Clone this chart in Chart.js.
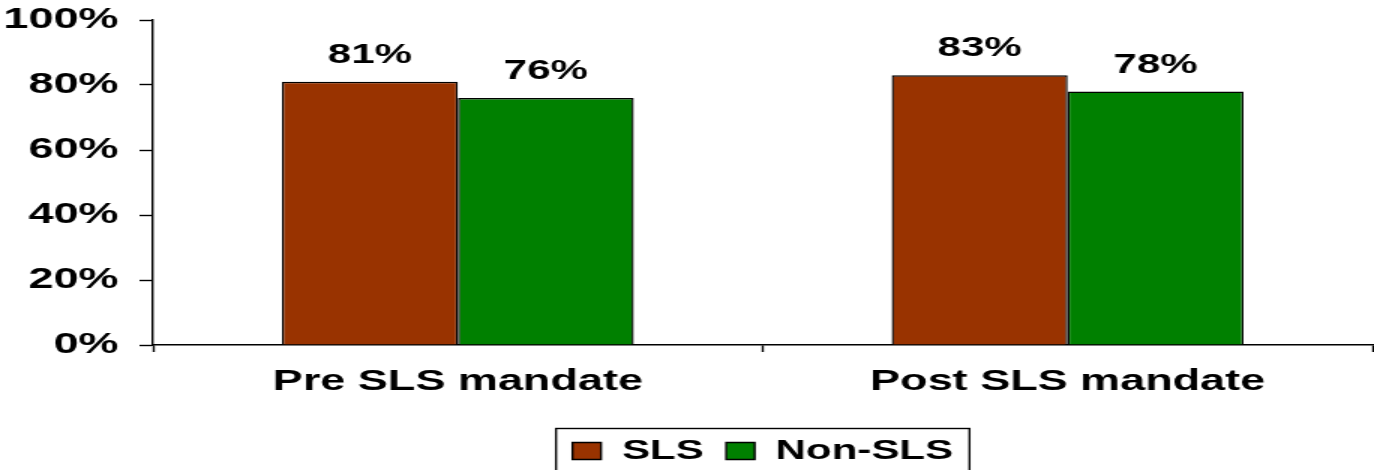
<!DOCTYPE html>
<html>
<head>
<meta charset="utf-8">
<script src="https://cdn.jsdelivr.net/npm/chart.js@4"></script>
<style>
  html, body { margin: 0; padding: 0; width: 1374px; height: 470px; overflow: hidden; background: #fff; }
  /* the chart is drawn on a narrower canvas and widened horizontally */
  #wrap { width: 916px; height: 475px; transform: scaleX(1.5); transform-origin: 0 0; }
  canvas { display: block; }
</style>
</head>
<body>
<div id="wrap"><canvas id="c" width="916" height="475" style="width:916px;height:475px"></canvas></div>
<script>
const categories = ['Pre SLS mandate', 'Post SLS mandate'];
const seriesNames = ['SLS', 'Non-SLS'];
const slsValues = [81, 83];
const nonSlsValues = [76, 78];
const yTickValues = [0, 20, 40, 60, 80, 100];

const FONT = "'Liberation Sans', Arial, sans-serif";

// value labels above each bar
const valueLabels = {
  id: 'valueLabels',
  afterDatasetsDraw(chart) {
    const ctx = chart.ctx;
    ctx.save();
    ctx.font = `bold 28px ${FONT}`;
    ctx.fillStyle = '#000';
    ctx.textAlign = 'center';
    ctx.textBaseline = 'alphabetic';
    chart.data.datasets.forEach((ds, di) => {
      const meta = chart.getDatasetMeta(di);
      meta.data.forEach((bar, i) => {
        ctx.fillText(ds.data[i] + '%', bar.x, bar.y - 19);
      });
    });
    ctx.restore();
  }
};

// frame around the legend
const legendFrame = {
  id: 'legendFrame',
  afterDraw(chart) {
    const lg = chart.legend;
    if (!lg || !lg.legendHitBoxes.length) return;
    const boxes = lg.legendHitBoxes;
    const left = Math.min(...boxes.map(b => b.left)) - 11;
    const right = Math.max(...boxes.map(b => b.left + b.width)) + 11;
    const cy = boxes[0].top + boxes[0].height / 2;
    const ctx = chart.ctx;
    ctx.save();
    ctx.strokeStyle = '#000';
    ctx.lineWidth = 1.4;
    ctx.strokeRect(left, cy - 22.5, right - left, 80);
    ctx.restore();
  }
};

new Chart(document.getElementById('c'), {
  type: 'bar',
  data: {
    labels: categories,
    datasets: [
      { label: seriesNames[0], data: slsValues, backgroundColor: '#993300', borderColor: '#000', borderWidth: 1.4 },
      { label: seriesNames[1], data: nonSlsValues, backgroundColor: '#008000', borderColor: '#000', borderWidth: 1.4 }
    ]
  },
  options: {
    responsive: false,
    devicePixelRatio: 1,
    animation: false,
    layout: { padding: { top: 20, right: 1, left: 0, bottom: 0 } },
    datasets: { bar: { categoryPercentage: 0.577, barPercentage: 1 } },
    plugins: {
      legend: {
        position: 'bottom',
        fullSize: false,
        labels: {
          font: { family: FONT, size: 28, weight: 'bold' },
          color: '#000',
          boxWidth: 19,
          boxHeight: 17,
          padding: 15
        }
      },
      tooltip: { enabled: false }
    },
    scales: {
      x: {
        grid: { display: true, drawOnChartArea: false, offset: true, tickLength: 7, color: '#000', tickColor: '#000', tickWidth: 1.4 },
        border: { display: true, color: '#000', width: 1.4 },
        ticks: { font: { family: FONT, size: 30, weight: 'bold' }, color: '#000', padding: 12, maxRotation: 0 },
        afterFit(scale) { scale.height = 77; scale.paddingLeft = 0; scale.paddingRight = 0; }
      },
      y: {
        min: 0,
        max: 100,
        afterBuildTicks(scale) { scale.ticks = yTickValues.map(v => ({ value: v })); },
        grid: { display: true, drawOnChartArea: false, tickLength: 9, color: '#000', tickColor: '#000', tickWidth: 1.4 },
        border: { display: true, color: '#000', width: 1.4 },
        ticks: { font: { family: FONT, size: 30, weight: 'bold' }, color: '#000', padding: 14, callback: v => v + '%' },
        afterFit(scale) { scale.width = 102; scale.paddingTop = 0; scale.paddingBottom = 0; }
      }
    }
  },
  plugins: [valueLabels, legendFrame]
});
</script>
</body>
</html>
